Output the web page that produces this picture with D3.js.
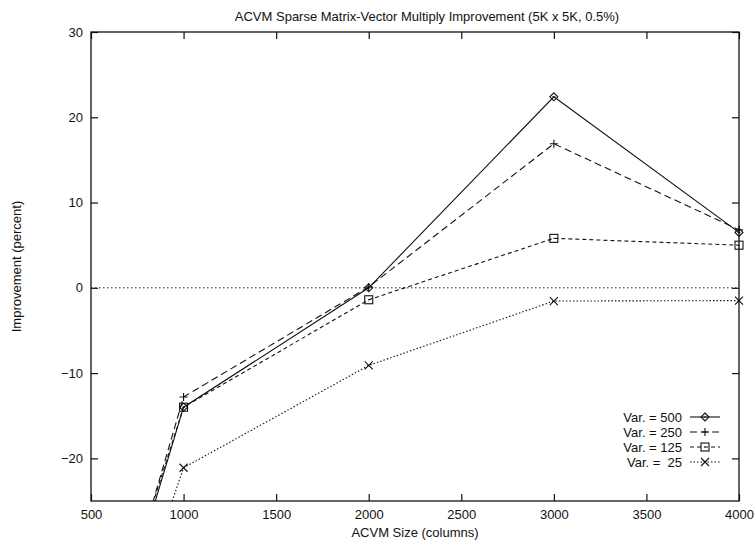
<!DOCTYPE html>
<html>
<head>
<meta charset="utf-8">
<script src="https://cdn.jsdelivr.net/npm/d3@7"></script>
<style>
  html, body { margin: 0; padding: 0; background: #fff; }
  text { font-family: "Liberation Sans", Helvetica, Arial, sans-serif; fill: #111; }
</style>
</head>
<body>
<svg id="chart" width="754" height="541"></svg>
<script>
const sizes = [500, 1000, 2000, 3000, 4000];
const var500 = [-50, -14.0, 0.0, 22.4, 6.5];
const var250 = [-50, -12.8, 0.1, 16.9, 6.8];
const var125 = [-48, -14.0, -1.4, 5.8, 5.0];
const var25  = [-53, -21.1, -9.1, -1.55, -1.5];
const seriesNames = ["Var. = 500", "Var. = 250", "Var. = 125", "Var. =  25"];
const xTicks = [500, 1000, 1500, 2000, 2500, 3000, 3500, 4000];
const yTicks = [-20, -10, 0, 10, 20, 30];

const series = [
  { name: seriesNames[0], values: var500, dash: null, marker: "diamond" },
  { name: seriesNames[1], values: var250, dash: "7,4", marker: "plus" },
  { name: seriesNames[2], values: var125, dash: "4,3", marker: "square" },
  { name: seriesNames[3], values: var25, dash: "1.5,2", marker: "cross" }
];

const svg = d3.select("#chart");
const L = 91, R = 739, T = 32, B = 501;
const x = d3.scaleLinear().domain([500, 4000]).range([L, R]);
const y = d3.scaleLinear().domain([-25, 30]).range([B, T]);
const fs = 13;

svg.append("defs").append("clipPath").attr("id", "clip")
  .append("rect").attr("x", L).attr("y", T).attr("width", R - L).attr("height", B - T);

svg.append("text").attr("x", (L + R) / 2 + 12).attr("y", 21).attr("text-anchor", "middle")
  .attr("font-size", fs).text("ACVM Sparse Matrix-Vector Multiply Improvement (5K x 5K, 0.5%)");

const tickLen = 7;
const gB = svg.append("g").attr("transform", `translate(0,${B})`)
  .call(d3.axisBottom(x).tickValues(xTicks).tickSize(-tickLen).tickPadding(9).tickFormat(d3.format("d")));
const gT = svg.append("g").attr("transform", `translate(0,${T})`)
  .call(d3.axisTop(x).tickValues(xTicks).tickSize(-tickLen).tickFormat(""));
const gL = svg.append("g").attr("transform", `translate(${L},0)`)
  .call(d3.axisLeft(y).tickValues(yTicks).tickSize(-tickLen).tickPadding(8).tickFormat(d3.format("d")));
const gR = svg.append("g").attr("transform", `translate(${R},0)`)
  .call(d3.axisRight(y).tickValues(yTicks).tickSize(-tickLen).tickFormat(""));
[gB, gT, gL, gR].forEach(g => {
  g.select(".domain").remove();
  g.selectAll("line").attr("stroke", "#111").attr("stroke-width", 1.2);
  g.selectAll("text").attr("font-size", fs).attr("font-family", "Liberation Sans, Helvetica, Arial, sans-serif").attr("fill", "#111");
});

svg.append("rect").attr("x", L).attr("y", T).attr("width", R - L).attr("height", B - T)
  .attr("fill", "none").attr("stroke", "#111").attr("stroke-width", 1.3);

svg.append("line").attr("x1", L).attr("x2", R).attr("y1", y(0)).attr("y2", y(0))
  .attr("stroke", "#222").attr("stroke-width", 1).attr("stroke-dasharray", "1.5,2.5");

svg.append("text").attr("x", (L + R) / 2).attr("y", 537).attr("text-anchor", "middle")
  .attr("font-size", fs).text("ACVM Size (columns)");
svg.append("text").attr("transform", `translate(21,${(T + B) / 2}) rotate(-90)`)
  .attr("text-anchor", "middle").attr("font-size", fs).text("Improvement (percent)");

function drawMarker(g, type, cx, cy) {
  const s = 4;
  if (type === "diamond") {
    g.append("path").attr("d", `M${cx},${cy - s}L${cx + s},${cy}L${cx},${cy + s}L${cx - s},${cy}Z`)
      .attr("fill", "none").attr("stroke", "#111").attr("stroke-width", 1.1);
    g.append("path").attr("d", `M${cx - 1.5},${cy}L${cx + 1.5},${cy}`).attr("stroke", "#111");
  } else if (type === "plus") {
    g.append("path").attr("d", `M${cx - s},${cy}L${cx + s},${cy}M${cx},${cy - s}L${cx},${cy + s}`)
      .attr("stroke", "#111").attr("stroke-width", 1.1);
  } else if (type === "square") {
    g.append("rect").attr("x", cx - s).attr("y", cy - s).attr("width", 2 * s).attr("height", 2 * s)
      .attr("fill", "none").attr("stroke", "#111").attr("stroke-width", 1.1);
    g.append("circle").attr("cx", cx).attr("cy", cy).attr("r", 0.6).attr("fill", "#111");
  } else if (type === "cross") {
    g.append("path").attr("d", `M${cx - s},${cy - s}L${cx + s},${cy + s}M${cx - s},${cy + s}L${cx + s},${cy - s}`)
      .attr("stroke", "#111").attr("stroke-width", 1.1);
  }
}

const plot = svg.append("g").attr("clip-path", "url(#clip)");
const line = d3.line().x((d, i) => x(sizes[i])).y(d => y(d));
series.forEach(s => {
  const p = plot.append("path").datum(s.values).attr("d", line)
    .attr("fill", "none").attr("stroke", "#111").attr("stroke-width", 1.1);
  if (s.dash) p.attr("stroke-dasharray", s.dash);
});
const mk = svg.append("g");
series.forEach(s => {
  s.values.forEach((v, i) => {
    if (v >= -25 && v <= 30) drawMarker(mk, s.marker, x(sizes[i]), y(v));
  });
});

const legY = [417, 432, 447, 462];
series.forEach((s, i) => {
  const ly = legY[i];
  svg.append("text").attr("x", 682).attr("y", ly + 4.5).attr("text-anchor", "end")
    .attr("font-size", fs).attr("xml:space", "preserve").style("white-space", "pre").text(s.name);
  const l = svg.append("line").attr("x1", 690).attr("x2", 720).attr("y1", ly).attr("y2", ly)
    .attr("stroke", "#111").attr("stroke-width", 1.1);
  if (s.dash) l.attr("stroke-dasharray", s.dash);
  drawMarker(svg, s.marker, 705, ly);
});
</script>
</body>
</html>
